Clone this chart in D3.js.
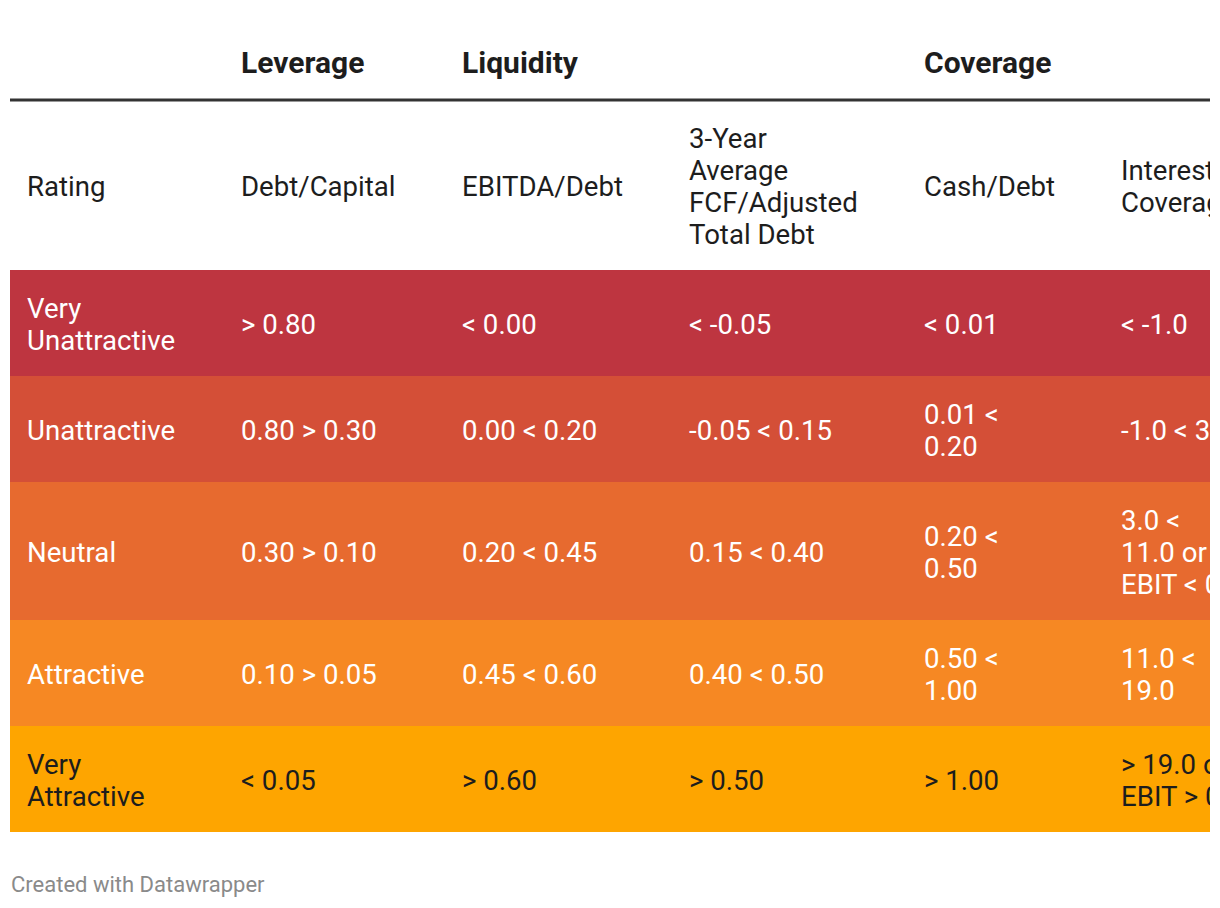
<!DOCTYPE html>
<html>
<head>
<meta charset="utf-8">
<script src="https://cdn.jsdelivr.net/npm/d3@7"></script>
<style>
  html, body { margin: 0; padding: 0; background: #fff; }
  svg { display: block; font-family: Roboto, "Noto Sans", sans-serif; }
</style>
</head>
<body>
<svg id="chart" width="1220" height="908"></svg>
<script>
// ---- data ----
const columns = ["Rating", "Debt/Capital", "EBITDA/Debt", "3-Year\nAverage\nFCF/Adjusted\nTotal Debt", "Cash/Debt", "Interest\nCoverage"];
const groups = [
  { label: "Leverage", col: 1 },
  { label: "Liquidity", col: 2 },
  { label: "Coverage", col: 4 }
];
const ratings = ["Very\nUnattractive", "Unattractive", "Neutral", "Attractive", "Very\nAttractive"];
const debtCapital = ["> 0.80", "0.80 > 0.30", "0.30 > 0.10", "0.10 > 0.05", "< 0.05"];
const ebitdaDebt = ["< 0.00", "0.00 < 0.20", "0.20 < 0.45", "0.45 < 0.60", "> 0.60"];
const fcfDebt = ["< -0.05", "-0.05 < 0.15", "0.15 < 0.40", "0.40 < 0.50", "> 0.50"];
const cashDebt = ["< 0.01", "0.01 <\n0.20", "0.20 <\n0.50", "0.50 <\n1.00", "> 1.00"];
const interestCoverage = ["< -1.0", "-1.0 < 3.0", "3.0 <\n11.0 or\nEBIT < 0", "11.0 <\n19.0", "> 19.0 or\nEBIT > 0"];
const rowColors = ["#be3540", "#d44f37", "#e76a2f", "#f68823", "#fea500"];
const textColors = ["#ffffff", "#ffffff", "#ffffff", "#ffffff", "#1d1d1d"];
const footer = "Created with Datawrapper";

// ---- layout ----
const W = 1220, H = 908;
const tableLeft = 10, tableRight = 1210;
const colWidths = [214, 221, 227, 235, 197, 230];
const padX = 17, padY = 21, lineH = 32;
const fontSize = 27.6;
const headerTop = 100;

const svg = d3.select("#chart");
svg.append("defs").append("clipPath").attr("id", "clip")
  .append("rect").attr("x", 0).attr("y", 0).attr("width", tableRight).attr("height", H);
const g = svg.append("g").attr("clip-path", "url(#clip)");

const colStarts = d3.cumsum([0, ...colWidths.slice(0, -1)]).map(d => d + tableLeft);
const x = d3.scaleOrdinal().domain(d3.range(columns.length)).range(Array.from(colStarts));

const body = ratings.map((r, i) => [r, debtCapital[i], ebitdaDebt[i], fcfDebt[i], cashDebt[i], interestCoverage[i]]);
const lines = s => s.split("\n");
const rowLines = row => d3.max(row, c => lines(c).length);

const headerH = rowLines(columns) * lineH + 2 * padY;
const bodyHeights = body.map(r => rowLines(r) * lineH + 2 * padY);
const bodyTops = Array.from(d3.cumsum([0, ...bodyHeights.slice(0, -1)])).map(d => d + headerTop + headerH);

function drawCell(parent, text, cx, top, h, color, weight) {
  const ls = lines(text);
  const t = parent.append("text")
    .attr("x", cx + padX)
    .attr("fill", color)
    .attr("font-size", fontSize)
    .attr("font-weight", weight || 400);
  ls.forEach((l, i) => {
    t.append("tspan")
      .attr("x", cx + padX)
      .attr("y", top + h / 2 + (i - (ls.length - 1) / 2) * lineH)
      .attr("dy", "0.4em")
      .text(l);
  });
}

// group headings
groups.forEach(gr => {
  g.append("text")
    .attr("x", x(gr.col) + padX)
    .attr("y", 62.5)
    .attr("dy", "0.35em")
    .attr("font-size", 30)
    .attr("font-weight", 700)
    .attr("fill", "#1d1d1d")
    .text(gr.label);
});

// thick rule
g.append("line")
  .attr("x1", tableLeft).attr("x2", tableRight)
  .attr("y1", headerTop).attr("y2", headerTop)
  .attr("stroke", "#333").attr("stroke-width", 3);

// column headers
columns.forEach((c, j) => drawCell(g, c, x(j), headerTop, headerH, "#1d1d1d", 400));

// body rows
body.forEach((row, i) => {
  g.append("rect")
    .attr("x", tableLeft).attr("y", bodyTops[i])
    .attr("width", tableRight - tableLeft).attr("height", bodyHeights[i])
    .attr("fill", rowColors[i]);
  row.forEach((c, j) => drawCell(g, c, x(j), bodyTops[i], bodyHeights[i], textColors[i], 400));
});

// footer
svg.append("text")
  .attr("x", 11).attr("y", 884).attr("dy", "0.35em")
  .attr("font-size", 22).attr("fill", "#8a8a8a")
  .text(footer);
</script>
</body>
</html>
